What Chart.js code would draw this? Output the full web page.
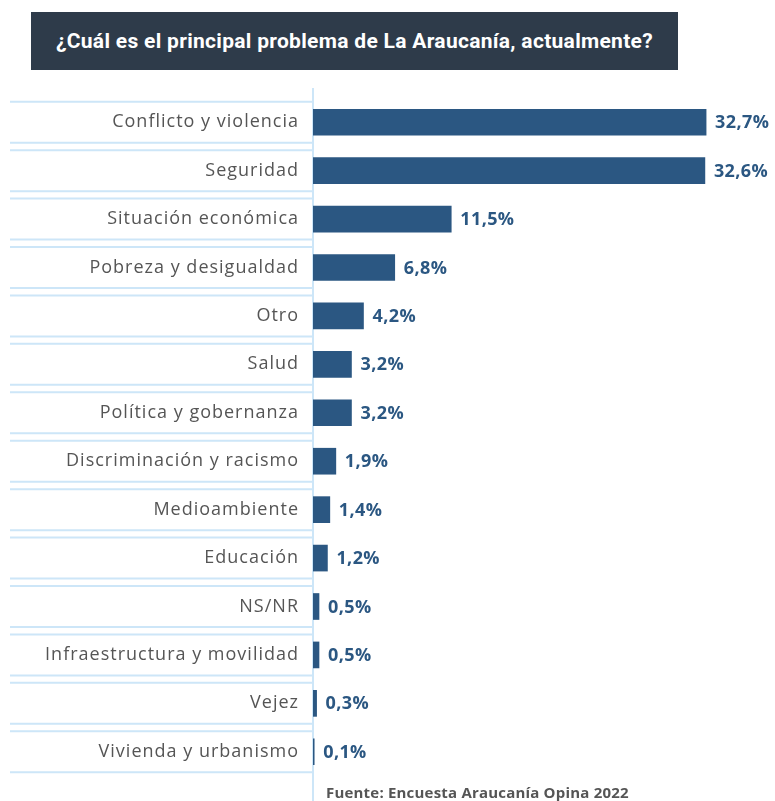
<!DOCTYPE html>
<html lang="es">
<head>
    <meta charset="UTF-8">
    <title>Principal problema de La Araucanía</title>
    <script src="https://cdn.jsdelivr.net/npm/chart.js@4.4.0/dist/chart.umd.min.js"></script>
    <style>
        body { margin: 0; background: #fff; }
        .wrap { position: relative; width: 775px; height: 801px; overflow: hidden; }
        #chart { position: absolute; left: 0; top: 0; }
        .titulo {
            position: absolute; left: 31px; top: 12px; width: 647px; height: 58px;
            background: #2e3b4a; color: #fff; font: bold 21px Roboto, sans-serif;
            letter-spacing: 0.3px;
            display: flex; align-items: center; justify-content: center;
        }
        .fuente {
            position: absolute; left: 326px; top: 782px;
            font: bold 15px "Open Sans", sans-serif; color: #555; letter-spacing: 0.2px;
        }
    </style>
</head>
<body>
<div class="wrap">
    <canvas id="chart" width="775" height="801"></canvas>
    <div class="titulo">¿Cuál es el principal problema de La Araucanía, actualmente?</div>
    <div class="fuente">Fuente: Encuesta Araucanía Opina 2022</div>
</div>
<script>
const categorias = [
    'Conflicto y violencia', 'Seguridad', 'Situación económica', 'Pobreza y desigualdad',
    'Otro', 'Salud', 'Política y gobernanza', 'Discriminación y racismo',
    'Medioambiente', 'Educación', 'NS/NR', 'Infraestructura y movilidad',
    'Vejez', 'Vivienda y urbanismo'
]
const porcentajes = [32.7, 32.6, 11.5, 6.8, 4.2, 3.2, 3.2, 1.9, 1.4, 1.2, 0.5, 0.5, 0.3, 0.1]

const azul = '#2b5782'
const celeste = '#cde6f8'

// cajas de cada fila y eje vertical, mas etiquetas de valor
const decoracion = {
    id: 'decoracion',
    beforeDraw(chart) {
        // las etiquetas del eje van un poco espaciadas
        chart.ctx.letterSpacing = '1px'
    },
    beforeDatasetsDraw(chart) {
        const ctx = chart.ctx
        ctx.letterSpacing = '0px'
        const y = chart.scales.y
        const x0 = chart.chartArea.left
        ctx.save()
        ctx.strokeStyle = celeste
        ctx.lineWidth = 2
        categorias.forEach((c, i) => {
            const cy = y.getPixelForValue(i)
            ctx.beginPath()
            ctx.moveTo(10, cy - 20.5); ctx.lineTo(x0, cy - 20.5)
            ctx.moveTo(10, cy + 20.5); ctx.lineTo(x0, cy + 20.5)
            ctx.stroke()
        })
        ctx.beginPath()
        ctx.moveTo(x0, 88); ctx.lineTo(x0, 801)
        ctx.stroke()
        ctx.restore()
    },
    afterDatasetsDraw(chart) {
        const ctx = chart.ctx
        const meta = chart.getDatasetMeta(0)
        ctx.save()
        ctx.fillStyle = azul
        ctx.font = 'bold 18px "Open Sans", sans-serif'
        ctx.letterSpacing = '0.4px'
        ctx.textBaseline = 'middle'
        meta.data.forEach((bar, i) => {
            const txt = porcentajes[i].toFixed(1).replace('.', ',') + '%'
            ctx.fillText(txt, bar.x + 9, bar.y + 1)
        })
        ctx.restore()
    }
}

const ctx = document.getElementById('chart').getContext('2d')
new Chart(ctx, {
    type: 'bar',
    data: {
        labels: categorias,
        datasets: [{
            data: porcentajes,
            backgroundColor: azul,
            barThickness: 26
        }]
    },
    options: {
        responsive: false,
        animation: false,
        devicePixelRatio: 1,
        indexAxis: 'y',
        layout: { padding: { top: 98, bottom: 25, right: 10, left: 0 } },
        plugins: { legend: { display: false }, tooltip: { enabled: false } },
        scales: {
            x: { display: false, min: 0, max: 37.6 },
            y: {
                grid: { display: false },
                border: { display: false },
                afterFit(scale) { scale.width = 313 },
                ticks: {
                    color: '#555',
                    padding: 6,
                    font: { family: '"Open Sans", sans-serif', size: 18 }
                }
            }
        }
    },
    plugins: [decoracion]
})
</script>
</body>
</html>
